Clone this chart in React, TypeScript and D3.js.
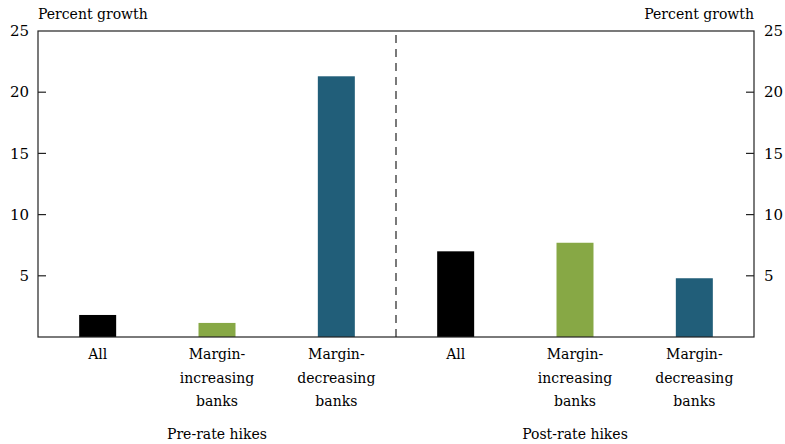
import React from "react";
import * as d3 from "d3";

const categories = ["pre-all", "pre-inc", "pre-dec", "post-all", "post-inc", "post-dec"];
const categoryLabels = [["All"], ["Margin-", "increasing", "banks"], ["Margin-", "decreasing", "banks"], ["All"], ["Margin-", "increasing", "banks"], ["Margin-", "decreasing", "banks"]];
const values = [1.8, 1.15, 21.3, 7.0, 7.7, 4.8];
const barColors = ["#000000", "#87a845", "#215e79", "#000000", "#87a845", "#215e79"];
const groups = ["Pre-rate hikes", "Post-rate hikes"];
const yTicks = [5, 10, 15, 20, 25];
const axisTitle = "Percent growth";

export default function App() {
  const W = 785, H = 444;
  const left = 38, right = 754, top = 31, bottom = 337;
  const x = d3.scaleBand<string>().domain(categories).range([left, right]).paddingInner(0.69).paddingOuter(0.345);
  const y = d3.scaleLinear().domain([0, 25]).range([bottom, top]);
  const font = "'DejaVu Serif', serif";
  const fs = 14;
  const divider = (x(categories[2])! + x.bandwidth() + x(categories[3])!) / 2;
  const ts = { fontFamily: font };
  return (
    <svg width={W} height={H} style={{ position: "absolute", left: 0, top: 0, fontFamily: font }}>
      <rect x={0} y={0} width={W} height={H} fill="#fff" />
      {categories.map((c, i) => (
        <rect key={c} x={x(c)} y={y(values[i])} width={x.bandwidth()} height={bottom - y(values[i])} fill={barColors[i]} />
      ))}
      <line x1={divider} x2={divider} y1={top} y2={bottom} stroke="#222" strokeWidth={1.2} strokeDasharray="8,6" strokeDashoffset={-4} />
      <rect x={left} y={top} width={right - left} height={bottom - top} fill="none" stroke="#222" strokeWidth={1.2} />
      {yTicks.map((t) => (
        <g key={t}>
          {t < 25 && <line x1={left} x2={left + 8} y1={y(t)} y2={y(t)} stroke="#222" strokeWidth={1.2} />}
          {t < 25 && <line x1={right - 8} x2={right} y1={y(t)} y2={y(t)} stroke="#222" strokeWidth={1.2} />}
          <text style={ts} x={left - 9} y={y(t)} dy="0.35em" textAnchor="end" fontSize={fs + 1}>{t}</text>
          <text style={ts} x={right + 10} y={y(t)} dy="0.35em" textAnchor="start" fontSize={fs + 1}>{t}</text>
        </g>
      ))}
      <text style={ts} x={left} y={19} fontSize={fs}>{axisTitle}</text>
      <text style={ts} x={right} y={19} fontSize={fs} textAnchor="end">{axisTitle}</text>
      {categories.map((c, i) => (
        <text style={ts} key={c} x={x(c)! + x.bandwidth() / 2} textAnchor="middle" fontSize={fs}>
          {categoryLabels[i].map((l, j) => (
            <tspan key={j} x={x(c)! + x.bandwidth() / 2} y={359 + j * 23.5}>{l}</tspan>
          ))}
        </text>
      ))}
      {groups.map((g, k) => (
        <text style={ts} key={g} x={x(categories[k * 3 + 1])! + x.bandwidth() / 2} y={439} textAnchor="middle" fontSize={fs}>{g}</text>
      ))}
    </svg>
  );
}
